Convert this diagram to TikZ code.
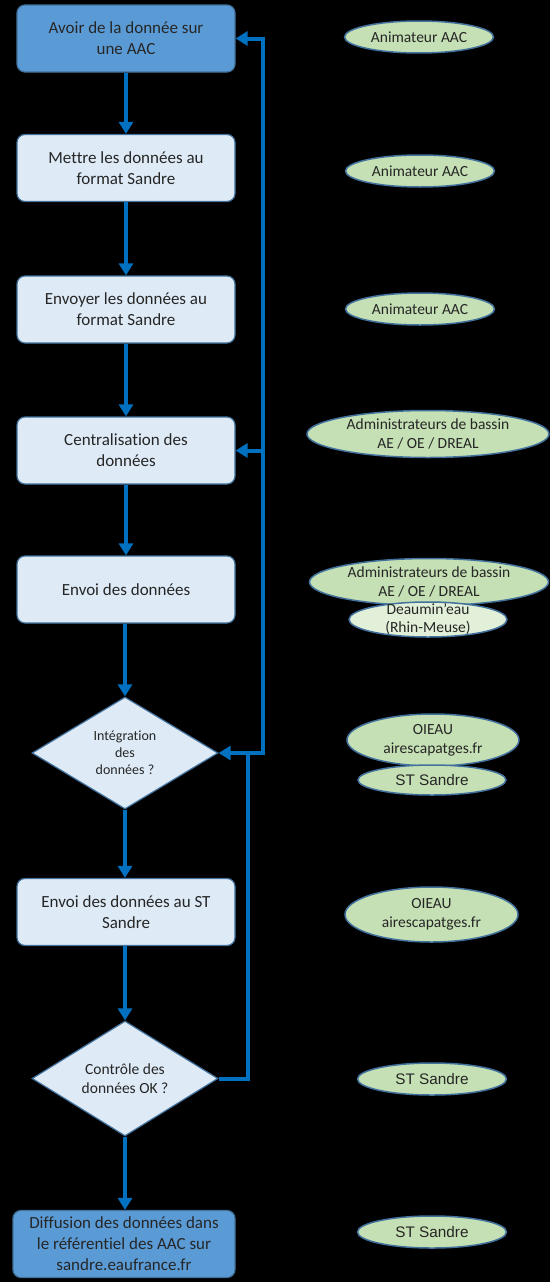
\documentclass[tikz,border=0pt]{standalone}
\usepackage{fontspec}
\setmainfont{Carlito}[Ligatures=NoCommon]
\newfontfamily\arialfont{Liberation Sans}
\usetikzlibrary{shapes.geometric,arrows.meta}
\definecolor{darkbox}{HTML}{5B9BD5}
\definecolor{lightbox}{HTML}{DEEBF7}
\definecolor{boxline}{HTML}{41719C}
\definecolor{arrowblue}{HTML}{0070C0}
\definecolor{actorfill}{HTML}{C5E0B4}
\definecolor{actorpale}{HTML}{E2F0D9}
\definecolor{inktext}{HTML}{262626}
\tikzset{
  stepbox/.style={rectangle, rounded corners=8pt, draw=boxline, line width=1.2pt,
    fill=lightbox, minimum width=218pt, minimum height=67pt, inner sep=2pt,
    align=center, text=inktext, font=\fontsize{17}{21}\selectfont},
  keybox/.style={stepbox, fill=darkbox},
  choice/.style={diamond, draw=boxline, line width=1.2pt, fill=lightbox,
    minimum width=186pt, minimum height=112pt, inner sep=-40pt,
    align=center, text=inktext, font=\fontsize{14}{17}\selectfont},
  actor/.style={ellipse, draw=boxline, line width=1.5pt, fill=actorfill,
    inner sep=-40pt, minimum width=149pt, minimum height=32pt,
    align=center, text=inktext, font=\fontsize{15.5}{19}\selectfont},
  stactor/.style={actor, font=\arialfont\fontsize{15.3}{18}\selectfont},
  flow/.style={draw=arrowblue, line width=4pt, line join=miter,
    -{Triangle[length=12pt,width=14pt]}},
  link/.style={draw=arrowblue, line width=4pt, line join=miter}
}

\begin{document}
\begin{tikzpicture}[x=1pt, y=-1pt]
\fill[black] (0,0) rectangle (550,1282);
% Steps
    \node[keybox] (avoir) at (126,38.5) {Avoir de la donnée sur\\une AAC};
    \node[stepbox] (mettre) at (126,168) {Mettre les données au\\format Sandre};
    \node[stepbox] (envoyer) at (126,309.5) {Envoyer les données au\\format Sandre};
    \node[stepbox] (central) at (126,450.5) {Centralisation des\\données};
    \node[stepbox] (envoi) at (126,589.5) {Envoi des données};
    \node[choice] (integ) at (125,753) {Intégration\\des\\données ?};
    \node[stepbox] (envoist) at (126,912) {Envoi des données au ST\\Sandre};
    \node[choice, minimum height=115pt, font=\fontsize{15.5}{19}\selectfont] (controle) at (125,1078.5) {Contrôle des\\données OK ?};
    \node[keybox, minimum width=222pt] (diffusion) at (124,1244) {Diffusion des données dans\\le référentiel des AAC sur\\sandre.eaufrance.fr};
% Actors
    \node[actor] (anim1) at (419,37) {Animateur AAC};
    \node[actor] (anim2) at (420,171) {Animateur AAC};
    \node[actor] (anim3) at (420,309) {Animateur AAC};
    \node[actor, minimum width=242pt, minimum height=47pt] (admin1) at (428,434) {Administrateurs de bassin\\AE / OE / DREAL};
    \node[actor, minimum width=239pt, minimum height=47pt] (admin2) at (429,582) {Administrateurs de bassin\\AE / OE / DREAL};
    \node[actor, fill=actorpale, minimum width=158pt, minimum height=35pt, font=\fontsize{15.5}{18}\selectfont] (deaumin) at (428,619.5) {Deaumin’eau\\(Rhin-Meuse)};
    \node[actor, minimum width=172pt, minimum height=52pt] (oieau1) at (433,740) {OIEAU\\airescapatges.fr};
    \node[stactor, minimum width=148pt, minimum height=30pt] (st1) at (432,780) {ST Sandre};
    \node[actor, minimum width=173pt, minimum height=55pt] (oieau2) at (431.5,914.5) {OIEAU\\airescapatges.fr};
    \node[stactor] (st2) at (432,1079) {ST Sandre};
    \node[stactor] (st3) at (432,1232) {ST Sandre};
% Main flow
    \draw[flow] (avoir) -- (mettre);
    \draw[flow] (mettre) -- (envoyer);
    \draw[flow] (envoyer) -- (central);
    \draw[flow] (central) -- (envoi);
    \draw[flow] (envoi.south -| integ.north) -- (integ.north);
    \draw[flow] (integ.south) -- (integ.south |- envoist.north);
    \draw[flow] (envoist.south -| controle.north) -- (controle.north);
    \draw[flow] (controle.south) -- (controle.south |- diffusion.north);
% Loops back
    \coordinate (back) at (265,753);
    \coordinate (retry) at (248,753);
    \draw[link] (controle.east) -| (retry);
    \draw[flow] (back) -- (integ.east);
    \draw[flow] ([xshift=-2pt]back) |- (avoir.east);
    \draw[flow] (back |- central.east) -- (central.east);
\end{tikzpicture}
\end{document}
